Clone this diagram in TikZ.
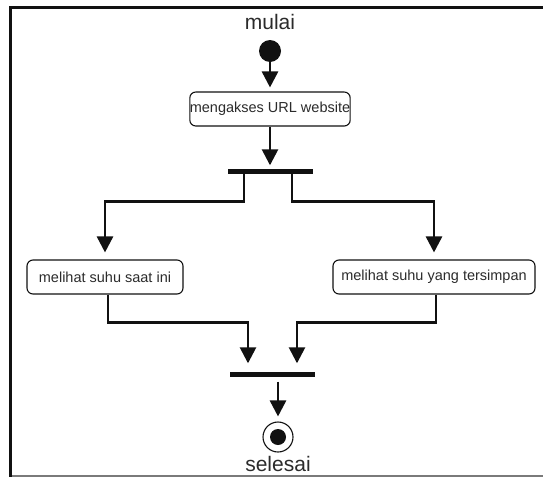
\documentclass[tikz,border=0pt]{standalone}
\usepackage{fontspec}
\setmainfont{Liberation Sans}
\usetikzlibrary{positioning, arrows.meta, calc}
\definecolor{ink}{HTML}{111111}
\definecolor{txt}{HTML}{2b2b2b}
\definecolor{rule}{HTML}{7a7a7a}

\begin{document}
\begin{tikzpicture}[
  x=1pt, y=-1pt,
  font=\fontsize{14.5}{16}\selectfont,
  act/.style={draw=ink, line width=1.1pt, rounded corners=6pt, minimum height=34pt, inner xsep=0pt, text=txt},
  bar/.style={fill=ink, minimum width=85pt, minimum height=5pt, inner sep=0pt},
  lbl/.style={font=\fontsize{21}{24}\selectfont, text=txt, inner sep=0pt},
  arr/.style={-{Triangle[width=16pt, length=16pt]}, line width=2.6pt, ink},
  dot/.style={circle, fill=ink, inner sep=0pt}
]
  \useasboundingbox (0,0) rectangle (543,477);

  % frame
  \draw[line width=3pt, ink] (543,7.5) -- (10.5,7.5) -- (10.5,477);
  \draw[line width=2pt, rule] (12,476) -- (543,476);

  \node[lbl] (mulai) at (270,22) {mulai};
  \node[dot, minimum size=22pt] (start) at (270,51) {};
  \node[act, minimum width=156pt] (akses) at (270,109) {mengakses URL website};
  \node[bar] (fork) at (270,171) {};
  \node[act, minimum width=156pt] (kini) at (105,277) {melihat suhu saat ini};
  \node[act, minimum width=202pt] (simpan) at (434,277) {melihat suhu yang tersimpan};
  \node[bar] (join) at (272.5,374) {};
  \node[circle, draw=ink, line width=1.1pt, minimum size=30pt, inner sep=0pt] (end) at (278,437) {};
  \node[dot, minimum size=16pt] (enddot) at (end) {};
  \node[lbl] (selesai) at (278,464) {selesai};

  \draw[arr, shorten >=4pt] (start) -- (akses);
  \draw[arr, shorten >=3pt] (akses) -- (fork);

  % fork
  \draw[arr, shorten >=7pt] ([xshift=-26pt]fork.south) -- ++(0,27.5) -| (kini.north);
  \draw[arr, shorten >=7pt] ([xshift=22pt]fork.south) -- ++(0,27.5) -| (simpan.north);

  % join
  \draw[arr, shorten >=8pt] ([xshift=3pt]kini.south) -- ++(0,28) -| ([xshift=-24.5pt]join.north);
  \draw[arr, shorten >=8pt] ([xshift=2pt]simpan.south) -- ++(0,28) -| ([xshift=24.5pt]join.north);
  \draw[arr, shorten <=5pt, shorten >=5pt] ([xshift=5.5pt]join.south) -- (end);
\end{tikzpicture}
\end{document}
